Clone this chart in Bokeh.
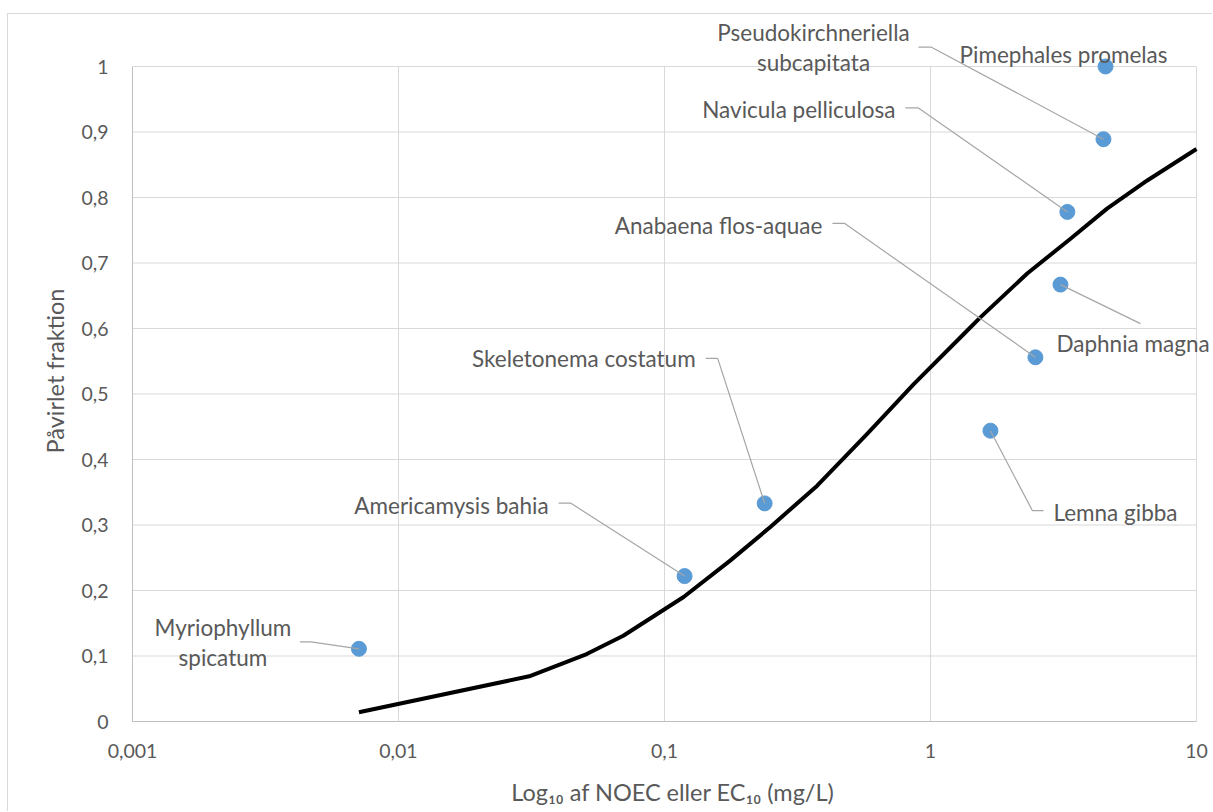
import math
from bokeh.plotting import figure
from bokeh.models import Range1d, FixedTicker, Label
from bokeh.embed import file_html
from bokeh.resources import INLINE

# ---------------- data ----------------
species = ["Myriophyllum\nspicatum", "Americamysis bahia", "Skeletonema costatum",
           "Lemna gibba", "Anabaena flos-aquae", "Daphnia magna",
           "Navicula pelliculosa", "Pseudokirchneriella\nsubcapitata", "Pimephales promelas"]
noec = [0.0071, 0.119, 0.238, 1.68, 2.48, 3.08, 3.27, 4.47, 4.55]
fraction = [0.111, 0.222, 0.333, 0.444, 0.556, 0.667, 0.778, 0.889, 1.0]

curve_x = [0.0071, 0.031, 0.051, 0.070, 0.118, 0.177, 0.25, 0.375, 0.578, 0.865,
           1.3, 1.54, 2.31, 3.36, 4.61, 6.53, 10]
curve_y = [0.014, 0.069, 0.103, 0.131, 0.190, 0.246, 0.297, 0.360, 0.439, 0.515,
           0.587, 0.617, 0.684, 0.737, 0.783, 0.826, 0.874]

x_ticks = [0.001, 0.01, 0.1, 1, 10]
x_tick_labels = ["0,001", "0,01", "0,1", "1", "10"]
y_ticks = [0, 0.1, 0.2, 0.3, 0.4, 0.5, 0.6, 0.7, 0.8, 0.9, 1]
y_tick_labels = ["0", "0,1", "0,2", "0,3", "0,4", "0,5", "0,6", "0,7", "0,8", "0,9", "1"]

# ---------------- label layout (pixel offsets from each point, y down) ----------------
label_layout = [
    dict(off=(-136, -6), align="center", leader=[(-59, -7), (-48, -7)]),
    dict(off=(-136, -71), align="right", leader=[(-126, -73), (-114, -73)]),
    dict(off=(-69, -145), align="right", leader=[(-59, -145), (-47, -145)]),
    dict(off=(63, 82), align="left", leader=[(53, 80), (42, 80)]),
    dict(off=(-213, -132), align="right", leader=[(-203, -134), (-191, -134)]),
    dict(off=(-4, 59), align="left", leader=[(80, 39)]),
    dict(off=(-172, -102), align="right", leader=[(-162, -104), (-149, -104)]),
    dict(off=(-290, -92), align="center", leader=[(-185, -92), (-172, -92)]),
    dict(off=(-42, -12), align="center", leader=[]),
]

# ---------------- geometry ----------------
W, H = 1205, 798
BL, BR, BT, BB = 124, 0, 6, 91
px_dec = 266.0                 # pixels per decade
px_unit = 655.0                # pixels per unit fraction
frame_w = W - BL - BR
frame_h = H - BT - BB
x_end = 10 ** (-3 + frame_w / px_dec)
y_top = frame_h / px_unit

def shift(x, y, dx, dy):
    return x * 10 ** (dx / px_dec), y - dy / px_unit

TEXT = "#595959"
GRID = "#D9D9D9"
FONT = "Lato"
FS = "22.5px"

p = figure(width=W, height=H, x_axis_type="log",
           x_range=Range1d(0.001, x_end), y_range=Range1d(0, y_top),
           output_backend="svg", toolbar_location=None,
           min_border_left=BL, min_border_right=BR, min_border_top=BT, min_border_bottom=BB,
           background_fill_color="white", border_fill_color="white")
p.margin = (13, 0, 0, 7)
p.styles = {"border-left": "1px solid #D9D9D9", "border-top": "1px solid #D9D9D9"}
p.outline_line_color = None

# grid lines limited to the axes' extent
p.xgrid.visible = False
p.ygrid.visible = False
p.segment(x0=x_ticks[1:], y0=[0] * 4, x1=x_ticks[1:], y1=[1] * 4,
          line_color=GRID, line_width=1)
p.segment(x0=[x_ticks[0]] * 10, y0=y_ticks[1:], x1=[x_ticks[-1]] * 10, y1=y_ticks[1:],
          line_color=GRID, line_width=1)

# axes
p.xaxis.ticker = FixedTicker(ticks=x_ticks)
p.xaxis.major_label_overrides = {t: l for t, l in zip(x_ticks, x_tick_labels)}
p.yaxis.ticker = FixedTicker(ticks=y_ticks)
p.yaxis.major_label_overrides = {t: l for t, l in zip(y_ticks, y_tick_labels)}
p.xaxis.bounds = (0.001, 10)
p.yaxis.bounds = (0, 1)
for ax in (p.xaxis, p.yaxis):
    ax.axis_line_color = "#BFBFBF"
    ax.axis_line_width = 1
    ax.major_tick_line_color = None
    ax.minor_tick_line_color = None
    ax.major_tick_out = 0
    ax.major_tick_in = 0
    ax.minor_tick_out = 0
    ax.minor_tick_in = 0
    ax.major_label_text_font = FONT
    ax.major_label_text_font_size = "19.5px"
    ax.major_label_text_color = TEXT
    ax.axis_label_text_font = FONT
    ax.axis_label_text_font_size = "23.5px"
    ax.axis_label_text_color = TEXT
    ax.axis_label_text_font_style = "normal"
p.xaxis.major_label_standoff = 22
p.yaxis.major_label_standoff = 24
p.xaxis.axis_label = "Log₁₀ af NOEC eller EC₁₀ (mg/L)"
p.yaxis.axis_label = "Påvirlet fraktion"
p.xaxis.axis_label_standoff = 17
p.yaxis.axis_label_standoff = 9

# curve
p.line(curve_x, curve_y, line_color="black", line_width=4, line_join="round")

# points
p.scatter(noec, fraction, size=15, fill_color="#5B9BD5", line_color="#5B9BD5")

# leaders and labels
lx, ly = [], []
for name, x, y, lay in zip(species, noec, fraction, label_layout):
    if lay["leader"]:
        xs, ys = [], []
        for dx, dy in lay["leader"]:
            a, b = shift(x, y, dx, dy)
            xs.append(a)
            ys.append(b)
        xs.append(x)
        ys.append(y)
        lx.append(xs)
        ly.append(ys)
    tx, ty = shift(x, y, *lay["off"])
    p.add_layout(Label(x=tx, y=ty, text=name, text_align=lay["align"],
                       text_baseline="middle", text_font=FONT, text_font_size=FS,
                       text_color=TEXT, text_line_height=1.1))
p.multi_line(lx, ly, line_color="#A6A6A6", line_width=1.2)

open("out.html", "w").write(file_html(p, INLINE))
